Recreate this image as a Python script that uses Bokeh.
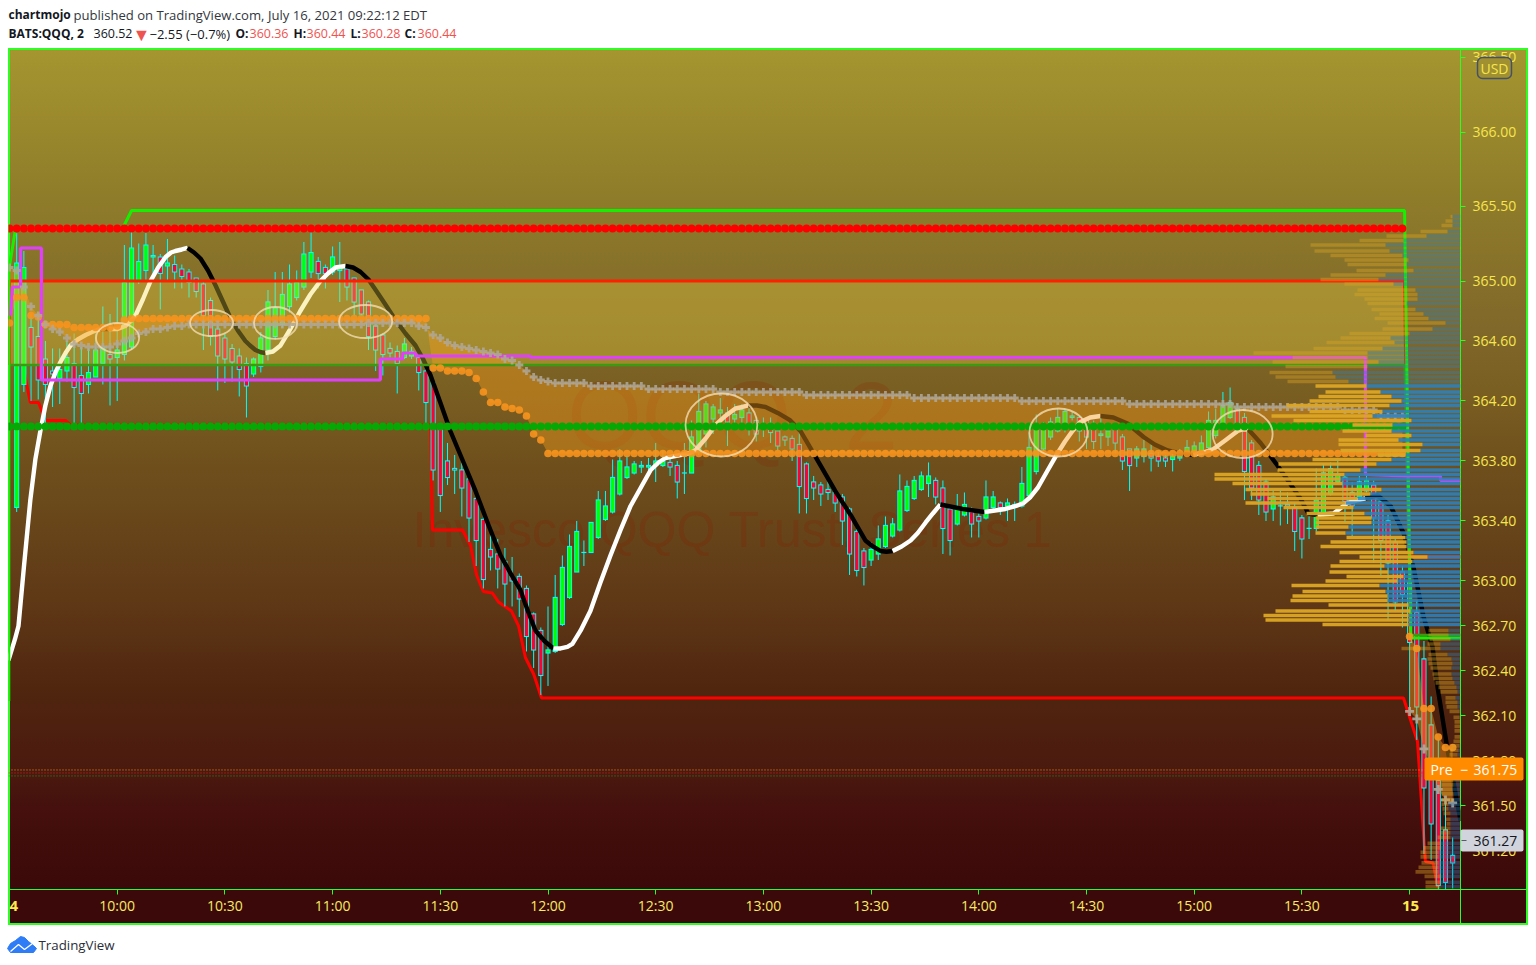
from bokeh.plotting import figure
from bokeh.embed import file_html
from bokeh.resources import INLINE
from bokeh.layouts import column
from bokeh.models import Range1d, LinearAxis, FixedTicker
from bokeh.core.properties import value

# ---------- candles (2 minute bars, first one 09:32) ----------
opens = [363.50,364.32,364.70,364.64,364.49,364.41,364.36,364.41,364.46,364.38,364.32,364.37,364.46,364.52,364.50,364.52,364.57,365.01,365.08,365.17,
365.17,365.11,365.12,365.09,365.07,365.03,364.99,364.88,364.69,364.63,364.56,364.51,364.46,364.39,364.44,364.55,364.64,364.72,364.84,364.90,
364.97,365.07,365.14,365.10,365.07,365.08,365.09,365.03,364.95,364.87,364.71,364.65,364.56,364.54,364.50,364.51,364.50,364.41,364.33,364.03,
363.81,363.76,363.75,363.69,363.56,363.42,363.22,363.19,363.14,363.04,363.04,362.96,362.79,362.68,362.53,362.54,362.72,362.90,363.07,363.20,
363.20,363.30,363.42,363.47,363.59,363.70,363.73,363.77,363.77,363.78,363.78,363.80,363.78,363.73,363.73,363.87,363.99,364.09,364.13,364.13,
364.09,364.10,364.13,364.08,364.05,364.06,364.01,363.97,363.96,363.92,363.79,363.67,363.65,363.62,363.60,363.57,363.49,363.34,363.21,363.15,
363.19,363.24,363.31,363.35,363.48,363.56,363.62,363.66,363.68,363.63,363.49,363.39,363.45,363.47,363.44,363.43,363.50,363.53,363.51,363.52,
363.51,363.58,363.74,363.89,363.97,364.01,364.04,364.10,364.10,364.08,364.06,363.98,363.97,364.02,363.97,363.89,363.83,363.84,363.86,363.84,
363.83,363.82,363.83,363.85,363.85,363.85,363.90,363.98,364.06,364.10,364.16,364.10,363.93,363.78,363.67,363.49,363.51,363.52,363.50,363.43,
363.36,363.36,363.45,363.59,363.67,363.70,363.60,363.57,363.61,363.65,363.54,363.41,363.27,363.07,363.00,362.80,362.49,362.05,361.68,361.35,361.18]
highs = [365.33,365.21,364.79,364.79,364.61,364.56,364.56,364.61,364.66,364.57,364.56,364.66,364.84,364.79,364.90,365.25,365.34,365.26,365.33,365.25,
365.19,365.29,365.18,365.12,365.09,365.03,365.01,364.90,364.72,364.66,364.59,364.56,364.50,364.50,364.67,364.95,365.07,365.07,365.12,365.08,
365.27,365.34,365.17,365.12,365.24,365.27,365.12,365.03,364.95,364.88,364.72,364.66,364.60,364.58,364.63,364.57,364.53,364.43,364.35,364.06,
363.93,363.85,363.80,363.71,363.58,363.46,363.34,363.29,363.23,363.17,363.06,362.98,362.80,362.70,362.84,363.05,363.18,363.32,363.41,363.28,
363.40,363.61,363.61,363.82,363.89,363.84,363.81,363.81,363.83,363.93,363.88,363.83,363.81,363.93,364.08,364.26,364.21,364.19,364.23,364.17,
364.19,364.19,364.16,364.10,364.10,364.10,364.04,363.98,363.98,364.04,363.80,363.71,363.67,363.71,363.63,363.59,363.50,363.36,363.23,363.27,
363.38,363.44,363.43,363.72,363.68,363.71,363.74,363.80,363.70,363.68,363.51,363.59,363.60,363.50,363.46,363.68,363.61,363.54,363.56,363.54,
363.77,364.00,364.12,364.07,364.10,364.16,364.16,364.14,364.11,364.10,364.08,364.10,364.06,364.05,363.99,363.89,363.91,363.95,363.92,363.87,
363.85,363.88,363.89,363.95,363.94,363.98,364.14,364.16,364.27,364.30,364.19,364.13,363.95,363.81,363.69,363.61,363.61,363.60,363.53,363.45,
363.44,363.76,363.79,363.80,363.81,363.71,363.67,363.71,363.74,363.68,363.56,363.45,363.29,363.11,363.10,362.88,362.61,362.24,361.95,361.55,361.30]
lows = [363.47,364.27,364.21,364.22,364.06,364.17,364.19,364.34,364.06,364.06,364.26,364.37,364.32,364.18,364.21,364.48,364.55,364.99,365.01,365.02,
364.82,365.01,364.96,364.96,364.90,364.90,364.55,364.58,364.28,364.33,364.34,364.24,364.10,364.37,364.40,364.48,364.62,364.70,364.80,364.88,
364.95,365.03,364.96,364.96,365.05,364.87,364.88,364.78,364.78,364.55,364.41,364.38,364.50,364.26,364.49,364.49,364.28,364.04,363.68,363.47,
363.65,363.59,363.44,363.27,363.11,362.96,363.08,362.96,362.84,362.84,362.77,362.54,362.43,362.25,362.31,362.53,362.71,362.89,363.07,363.11,
363.20,363.29,363.41,363.46,363.58,363.69,363.72,363.73,363.71,363.67,363.77,363.71,363.56,363.59,363.73,363.85,363.90,363.99,364.06,363.91,
364.03,364.06,363.98,363.94,363.97,363.93,363.88,363.91,363.81,363.46,363.46,363.55,363.51,363.55,363.47,363.25,363.05,363.04,362.98,363.11,
363.15,363.23,363.30,363.34,363.47,363.55,363.61,363.57,363.52,363.19,363.18,363.38,363.44,363.30,363.30,363.42,363.49,363.45,363.41,363.41,
363.50,363.57,363.72,363.87,363.95,364.00,364.00,364.08,363.94,363.89,363.89,363.89,363.91,363.86,363.75,363.61,363.77,363.80,363.74,363.77,
363.77,363.74,363.81,363.84,363.84,363.84,363.89,363.96,364.05,364.09,363.99,363.55,363.55,363.45,363.41,363.41,363.38,363.39,363.21,363.16,
363.29,363.34,363.44,363.58,363.66,363.40,363.31,363.56,363.60,363.13,363.05,362.75,362.81,362.70,362.15,361.95,361.19,361.15,360.95,360.95,360.96]
closes = [365.13,365.10,364.57,364.35,364.32,364.39,364.42,364.50,364.30,364.26,364.40,364.55,364.57,364.49,364.55,365.00,365.23,365.14,365.25,365.18,
365.06,365.13,365.07,365.04,365.00,364.94,364.78,364.64,364.51,364.49,364.47,364.42,364.31,364.49,364.63,364.87,364.83,364.92,364.99,365.00,
365.19,365.20,365.06,365.06,365.17,365.11,364.97,364.87,364.79,364.64,364.55,364.52,364.53,364.46,364.59,364.54,364.40,364.20,363.75,363.58,
363.70,363.75,363.63,363.43,363.28,363.02,363.17,363.09,362.99,363.01,362.89,362.64,362.55,362.38,362.55,362.90,363.10,363.24,363.34,363.20,
363.40,363.55,363.51,363.70,363.81,363.77,363.79,363.78,363.78,363.81,363.81,363.77,363.67,363.73,363.97,364.14,364.19,364.17,364.15,364.07,
364.12,364.15,364.06,363.99,364.04,364.00,363.91,363.95,363.89,363.64,363.56,363.63,363.59,363.60,363.53,363.41,363.19,363.08,363.10,363.22,
363.29,363.38,363.39,363.61,363.64,363.68,363.71,363.71,363.57,363.36,363.28,363.49,363.52,363.39,363.41,363.57,363.57,363.50,363.53,363.51,
363.66,363.90,364.02,364.04,364.07,364.10,364.14,364.11,364.01,363.97,363.94,363.99,364.01,363.93,363.81,363.78,363.89,363.89,363.83,363.81,
363.81,363.84,363.84,363.90,363.91,363.93,364.08,364.08,364.18,364.20,364.01,363.74,363.63,363.55,363.47,363.57,363.51,363.51,363.34,363.29,
363.36,363.55,363.73,363.76,363.72,363.54,363.51,363.67,363.68,363.43,363.28,363.13,362.87,362.92,362.60,362.17,361.63,361.39,360.98,361.00,361.13]

# ---------- indicator levels, one value per bar from 09:30 to 15:58 ----------
orange_band = [364.73,364.90,364.90,364.78,364.77,364.72,364.72,364.72,364.72,364.70,364.70,364.70,364.70,364.70,364.70,364.71,364.75,364.76]\
 + [364.76]*41 + [364.43,364.43,364.41,364.41,364.41,364.40,364.36,364.27,364.20,364.20,364.17,364.16,364.15,364.11,363.99,363.95] + [363.86]*120
vwap_cross = [365.10,365.08,364.97,364.84,364.78,364.72,364.69,364.67,364.63,364.59,364.58,364.57,364.57,364.57,364.57,364.59,364.61,364.63,364.66,364.67,
364.69,364.69,364.70,364.71,364.71] + [364.72]*25 + [364.73]*7 + [364.71,364.70,364.65,364.63,364.60,364.58,364.57,364.56,364.55,364.54,364.53,364.52,364.49,364.48,364.45,364.41,364.37,364.35,364.34,364.33]\
 + [364.33]*4 + [364.31]*8 + [364.29]*10 + [364.27]*12 + [364.25]*15 + [364.23]*15 + [364.21]*15 + [364.19]*15 + [364.17]*15 + [364.15]*5 + [364.11]*4
orange_next = [362.64,362.56,362.16,362.16,361.97,361.90,361.90]
vwap_next = [362.14,362.09,361.89,361.78,361.62,361.55,361.53]
RESIST_DOTS = 365.36
SUPPORT_DOTS = 364.04

# ---------- stepped and smoothed lines: minutes after 09:30, price ----------
upper_t = [-0.2,-0.2,1.7,31.5,34,388.6,390.3,404.2]
upper_p = [362.21,365.08,365.36,365.36,365.48,365.48,362.63,362.63]
vah_t = [-0.1,-0.1,388.6,389.7,391.1,404.2]
vah_p = [364.45,365.01,365.01,363.19,363.17,363.17]
val_t = [-0.1,388.6,390.3,404.2]
val_p = [364.45,364.45,362.65,362.65]
lower_t = [3.9,5.8,8.1,10,15.6,17,117.3,117.8,126.2,128.4,130.1,132,134.5,136.2,139.8,141.8,143.7,146,148.2,388.3,392.2,394.4,396.6,397.8]
lower_p = [364.43,364.2,364.2,364.08,364.08,364.05,364.05,363.35,363.35,363.25,363.05,362.94,362.93,362.87,362.81,362.71,362.5,362.39,362.23,362.23,361.94,361.14,361.13,360.97]
poc_t = [0.3,0.8,3.1,3.1,8.9,8.9,103.3,103.3,109.5,109.5,113.1,113.1,145.1,145.1,377.7,377.7,388.6,398.6,398.6,404.2]
poc_p = [364.78,364.97,364.97,365.23,365.23,364.35,364.35,364.49,364.49,364.53,364.53,364.51,364.51,364.50,364.50,363.72,363.71,363.71,363.68,363.68]

hma_t = [[-0.3,1.5,2.5,4,5.8,7.2,8.6,10,11.4,12.8,14.2,15.6,17,19,21.2,23,25.3],[25.3,27.6],
 [27.6,30.1,32.3,33.7,35.1,37.2,39.3,41.4,43.5,45,46.2,48,49.6],
 [49.6,51.4,53.2,55.3,57.4,59.5,61.6,63.6,65.7,67,68.5,70,71.3],
 [71.3,73.4,75.5,78,81,83.8,86.6,88.7,90.8,92.2,93.6],
 [93.6,95.7,97.8,100,102,104.8,107.5,110.3,113.1,115.2,117.3,120,122.8,126.3,129.8,133.3,136.8,139.6,142.3,144.4,146.5,149,151.5],
 [151.5,153.5,155.4,156.8,159.1,161.8,164.6,167.4,170.2,173,175.8,178.6,180.8,182.7,184.7,186.9,189.1,191,193.9,196.7,199.4,202.2,204.2,205.8],
 [205.8,208.2,210.6,214,217.5,220.3,223,225.9,230,234.3,238.4,240.5,242.6,244.3,246],
 [246,248.5,251,253,255.2,257.2,259.3],[259.3,265.5,271.6],
 [271.6,277.4,280.4,282.5,284.4,286.4,289,291.9,294,296.1,298.3,301,303.9],
 [303.9,307.5,311.4,315.9,319,322.6,326,329.8],[329.8,333,335.4,338.8,342.1,343.5,345.1],
 [345.1,348.5,353.2,359.6,361.8,364.4],[364.4,368.8,372.7,377.7],[377.7,381.1,384.7,388.3,391.1,393.9,396.4,397.8,400.6,404.2]]
hma_p = [[362.48,362.62,362.71,363.1,363.55,363.82,364.01,364.18,364.31,364.4,364.47,364.53,364.58,364.62,364.65,364.67,364.69],[364.69,364.69],
 [364.69,364.69,364.71,364.74,364.78,364.89,365.01,365.10,365.17,365.20,365.21,365.22,365.23],
 [365.23,365.20,365.16,365.08,364.98,364.87,364.76,364.68,364.61,364.58,364.55,364.535,364.53],
 [364.53,364.54,364.58,364.68,364.81,364.92,365.01,365.06,365.10,365.105,365.11],
 [365.11,365.10,365.07,365.02,364.95,364.85,364.75,364.66,364.58,364.49,364.38,364.2,364.01,363.81,363.61,363.39,363.18,363.06,362.95,362.81,362.68,362.61,362.56],
 [362.56,362.56,362.57,362.59,362.68,362.81,363.0,363.18,363.35,363.51,363.63,363.75,363.80,363.83,363.84,363.85,363.86,363.88,363.96,364.05,364.11,364.16,364.17,364.18],
 [364.18,364.18,364.17,364.13,364.08,364.01,363.90,363.78,363.61,363.45,363.28,363.24,363.21,363.205,363.21],
 [363.21,363.24,363.28,363.33,363.40,363.46,363.52],[363.52,363.49,363.47],
 [363.47,363.49,363.51,363.53,363.57,363.63,363.74,363.86,363.94,364.01,364.07,364.10,364.11],
 [364.11,364.10,364.06,363.97,363.92,363.88,363.86,363.85],[363.85,363.87,363.89,363.95,364.01,364.02,364.02],
 [364.02,363.93,363.78,363.56,363.46,363.45],[363.45,363.46,363.53,363.56],[363.56,363.58,363.51,363.33,363.10,362.77,362.57,362.30,361.88,361.41]]

ring_t = [30.1,56.3,74.1,99.2,198.3,292.2,343.5]
ring_p = [364.63,364.73,364.73,364.74,364.05,364.00,363.99]
ring_w = [12,12,12,14.8,20,16.2,16.7]
ring_h = [0.20,0.173,0.213,0.22,0.42,0.32,0.32]

# ---------- volume profile ----------
profile_price = [365.44,365.41,365.38,365.34,365.31,365.28,365.25,365.21,365.18,365.15,365.12,365.08,365.05,365.02,364.99,364.95,364.92,364.89,364.86,364.82,
364.79,364.76,364.73,364.69,364.66,364.63,364.60,364.56,364.53,364.50,364.47,364.44,364.40,364.37,364.34,364.31,364.27,364.24,364.21,364.18,
364.14,364.11,364.08,364.05,364.01,363.98,363.95,363.92,363.88,363.85,363.82,363.79,363.75,363.72,363.69,363.66,363.62,363.59,363.56,363.53,
363.50,363.46,363.43,363.40,363.37,363.33,363.30,363.27,363.24,363.20,363.17,363.14,363.11,363.07,363.04,363.01,362.98,362.94,362.91,362.88,
362.85,362.81,362.78,362.75,362.72,362.68,362.65,362.62,362.59,362.56,362.52,362.49,362.46,362.43,362.39,362.36,362.33,362.30,362.27,362.23,
362.20,362.17,362.14,362.10,362.07,362.04,362.01,361.97,361.94,361.91,361.88,361.85,361.81,361.78,361.75,361.72,361.68,361.65,361.62,361.59,
361.55,361.52,361.49,361.46,361.42,361.39,361.36,361.33,361.30,361.26,361.23,361.20,361.17,361.13,361.10,361.07,361.04,361.00,360.97]
vol_up = [2,7,11,27,40,44,75,75,72,64,59,57,55,58,49,58,63,53,39,44,44,54,58,50,60,50,68,69,114,75,106,82,63,60,61,
51,55,73,92,103,73,101,118,40,49,46,60,84,80,28,79,98,83,130,126,110,136,120,90,100,70,58,56,56,33,30,59,76,86,74,68,73,54,59,57,72,88,83,95,97,80,135,145,143,86,
20,20,21,13,39,19,24,24,21,19,19,19,18,17,10,12,11,10,6,6,6,6,6,7,8,8,8,8,10,10,12,12,12,10,12,12,7,6,7,5,4,10,10,13,13,17,18,18,17,20,23,16,15,15]
vol_down = [8,8,8,13,34,57,75,71,58,52,54,47,75,82,67,45,43,43,54,45,37,32,15,28,51,70,66,78,93,93,82,93,128,125,112,
94,80,69,59,71,78,88,49,68,69,49,62,38,40,55,69,84,100,116,120,118,79,90,103,115,107,96,89,89,112,115,55,54,54,47,33,48,76,72,57,63,81,75,73,73,52,50,52,52,52,
12,12,10,20,20,13,9,8,9,9,8,6,4,3,5,3,3,1,1,0,0,0,0,0,1,2,3,5,5,7,7,7,7,8,7,7,12,12,10,10,10,10,10,10,20,20,22,22,22,22,22,20,20,20]
VA_FIRST_ROW = 35
VA_LAST_ROW = 84

price_ticks = [366.5,366,365.507,365.007,364.613,364.213,363.813,363.413,363.013,362.713,362.413,362.113,361.813,361.513,361.213]
price_labels = ["366.50","366.00","365.50","365.00","364.60","364.20","363.80","363.40","363.00","362.70","362.40","362.10","361.80","361.50","361.20"]
time_ticks = [0,30,60,90,120,150,180,210,240,270,300,330,360,390]
time_labels = ["","10:00","10:30","11:00","11:30","12:00","12:30","13:00","13:30","14:00","14:30","15:00","15:30",""]

# ---------- page ----------
W, H = 1536, 960
GREEN = "#2dff22"
def stripe(x, y, w, h):
    return f"linear-gradient({GREEN},{GREEN}) {x}px {y}px/{w}px {h}px no-repeat"
grad = ("linear-gradient(to bottom,#a59630 0px,#a08f2e 40px,#8f7c2a 150px,#80682a 280px,#7a5f22 340px,"
        "#6e4f1c 420px,#5e3716 560px,#50260f 640px,#4b1a0f 720px,#45100d 760px,#3b0909 841px,#3b0909 876px) 8px 48px/1520px 876px no-repeat")
css = ",".join([stripe(8,48,1520,2),stripe(8,923,1520,2),stripe(8,48,2,877),stripe(1526,48,2,877),
                stripe(8,889,1520,1),stripe(1460,48,1,877),grad,"#ffffff"])

p = figure(width=W, height=H, output_backend="svg", toolbar_location=None,
           x_range=Range1d(-0.28,404.18), y_range=Range1d(360.953,366.56),
           x_axis_type=None, y_axis_type=None, min_border_left=8, min_border_right=76,
           min_border_top=48, min_border_bottom=71)
p.styles = {"background": css}
p.border_fill_color = None
p.background_fill_color = None
p.outline_line_color = None
p.grid.visible = False
p.frame_align = False
p.extra_x_ranges = {"vol": Range1d(1452,0)}

AX = "Open Sans"
right = LinearAxis(ticker=FixedTicker(ticks=price_ticks))
right.major_label_overrides = dict(zip(price_ticks, price_labels))
right.major_label_text_color = "#f6e64e"
right.major_label_text_font = AX
right.major_label_text_font_size = "14px"
right.major_tick_line_color = GREEN
right.major_tick_line_width = 1
right.major_tick_out = 5
right.major_tick_in = 0
right.major_label_standoff = 7
right.minor_tick_line_color = None
right.axis_line_color = None
p.add_layout(right, "right")
bottom = LinearAxis(ticker=FixedTicker(ticks=time_ticks))
bottom.major_label_overrides = dict(zip(time_ticks, time_labels))
bottom.major_label_text_color = "#f8ea62"
bottom.major_label_text_font = AX
bottom.major_label_text_font_size = "14px"
bottom.major_tick_line_color = GREEN
bottom.major_tick_out = 5
bottom.major_tick_in = 0
bottom.major_label_standoff = 1
bottom.minor_tick_line_color = None
bottom.axis_line_color = None
p.add_layout(bottom, "below")

# watermark
p.text(x=[201.4], y=[364.11], text=["QQQ, 2"], text_font=value("Liberation Sans"), text_font_size="96px",
       text_align="center", text_baseline="middle", text_color="#8a1c00", text_alpha=0.2)
p.text(x=[201.4], y=[363.35], text=["Invesco QQQ Trust, Series 1"], text_font=value("Liberation Sans"), text_font_size="50px",
       text_align="center", text_baseline="middle", text_color="#8a1c00", text_alpha=0.22)

# lower stepped line
p.line(lower_t, lower_p, line_color="#ff0000", line_width=3)

# candles: cyan wick and outer body, solid inner body
bars = [2*(i+1) for i in range(len(opens))]
up = [c >= o for o, c in zip(opens, closes)]
p.segment(bars, lows, bars, highs, line_color="#00ffff", line_width=1)
p.vbar(bars, width=1.42, bottom=[min(o,c)-0.004 for o,c in zip(opens,closes)], top=[max(o,c)+0.004 for o,c in zip(opens,closes)],
       fill_color="#00ffff", line_color=None)
p.vbar(bars, width=0.92, bottom=[min(o,c)+0.003 for o,c in zip(opens,closes)], top=[max(max(o,c)-0.003,min(o,c)+0.003) for o,c in zip(opens,closes)],
       fill_color=["#00ff00" if u else "#ff0033" for u in up], line_color=None)

# smoothed line, colour flips at each turn
for i, (t, v) in enumerate(zip(hma_t, hma_p)):
    p.line(t, v, line_color="#ffffff" if i % 2 == 0 else "#000000", line_width=4.4, line_join="round")

# value area band and VWAP band
p.hbar(y=[364.73], left=[-0.28], right=[388.6], height=[0.56], fill_color="#f0d840", fill_alpha=0.33, line_color=None)
days = [2*i for i in range(195)]
next_days = [390+2*i for i in range(7)]
p.varea(days, orange_band, vwap_cross, fill_color="#f59a1a", fill_alpha=0.42)
p.varea(next_days, orange_next, vwap_next, fill_color="#f59a1a", fill_alpha=0.42)

# stepped lines
p.line(vah_t, vah_p, line_color="#ff2000", line_width=3.2)
p.line(val_t, val_p, line_color="#3c9a12", line_width=2.4)
p.line(upper_t, upper_p, line_color="#14f000", line_width=3)
p.line(poc_t, poc_p, line_color="#e040fb", line_width=3.2)

# dotted levels
p.scatter(days, [RESIST_DOTS]*195, size=7.8, marker="circle", fill_color="#ff0000", line_color=None)
p.scatter(days, [SUPPORT_DOTS]*195, size=7.8, marker="circle", fill_color="#05a805", line_color=None)
p.scatter(days, orange_band, size=7.6, marker="circle", fill_color="#f7931e", line_color=None, fill_alpha=0.9)
p.scatter(next_days, orange_next, size=7.6, marker="circle", fill_color="#f7931e", line_color=None, fill_alpha=0.9)
p.scatter(days, vwap_cross, size=8, marker="cross", line_color="#b0a89a", line_width=2.8, line_alpha=0.85)
p.scatter(next_days, vwap_next, size=9, marker="cross", line_color="#b0a89a", line_width=2.8, line_alpha=0.9)

p.ellipse(ring_t, ring_p, width=ring_w, height=ring_h, fill_color=None, line_color="#f5dfb5", line_width=1.8, line_alpha=0.78)

# pre-market levels
for lvl, col in [(361.75,"#f7931e"),(361.73,"#e02020"),(361.71,"#1fa01f")]:
    p.line([-0.28,394.2],[lvl,lvl], line_color=col, line_width=1, line_dash="1 2")

# volume profile
n = len(profile_price)
tot = [u+d for u, d in zip(vol_up, vol_down)]
inside = [VA_FIRST_ROW <= i <= VA_LAST_ROW for i in range(n)]
zero = [0]*n
p.hbar(y=profile_price, left=vol_down, right=zero, height=0.0245, x_range_name="vol", line_color=None,
       fill_color="#2a82c0", fill_alpha=[0.88 if a else 0.38 for a in inside])
p.hbar(y=profile_price, left=tot, right=vol_down, height=0.0245, x_range_name="vol", line_color=None,
       fill_color="#dca524", fill_alpha=[0.96 if a else 0.42 for a in inside])

# ---------- transparent sheet over the whole page for header, footer and price tags ----------
sheet = figure(width=W, height=H, output_backend="svg", toolbar_location=None,
               x_range=Range1d(0,W), y_range=Range1d(H,0), x_axis_type=None, y_axis_type=None,
               min_border=0, outline_line_color=None)
sheet.grid.visible = False
sheet.border_fill_color = None
sheet.background_fill_color = None
sheet.frame_align = False
sheet.styles = {"position": "absolute", "top": "0px", "left": "0px", "pointer-events": "none"}

def tag(txt, x, y, size="12.5px", color="#131722", style="normal", font="Open Sans", align="left"):
    sheet.text([x], [y], text=[txt], text_font=value(font), text_font_size=size, text_color=color,
               text_font_style=style, text_baseline="middle", text_align=align)
def box(l, r, t, b, fill, line=None, radius=2):
    sheet.quad(left=[l], right=[r], top=[t], bottom=[b], fill_color=fill, line_color=line, line_width=1.5, border_radius=radius)

tag("chartmojo", 8, 14, style="bold", size="12px")
tag("published on TradingView.com, July 16, 2021 09:22:12 EDT", 73, 14, color="#333740", size="13.1px")
tag("BATS:QQQ, 2", 8, 33, style="bold", size="12px")
tag("360.52", 93, 33)
tag("▼", 132, 33, color="#ef5350", size="18px")
tag("−2.55 (−0.7%)", 149, 33, size="13px")
tag("O:", 235, 33, style="bold", size="12px")
tag("360.36", 249, 33, color="#ef5350")
tag("H:", 293, 33, style="bold", size="12px")
tag("360.44", 306, 33, color="#ef5350")
tag("L:", 350, 33, style="bold", size="12px")
tag("360.28", 361, 33, color="#ef5350")
tag("C:", 404, 33, style="bold", size="12px")
tag("360.44", 417, 33, color="#ef5350")
tag("TradingView", 38, 944, color="#2a2e39", size="13.3px")
tag("4", 9, 905, size="15px", color="#ffe94e", style="bold")
tag("15", 1410, 905, size="15px", color="#ffe94e", style="bold", align="center")

box(1477, 1511, 57, 78, "#a09030", line="#45506a", radius=5)
tag("USD", 1494, 67.5, size="14px", color="#f6e64e", align="center")
box(1424, 1523, 757, 780, "#ff8c00")
tag("Pre", 1430, 769, size="14px", color="#ffffff")
tag("−", 1460, 769, size="14px", color="#ffffff")
tag("361.75", 1473, 769, size="14px", color="#ffffff")
box(1460, 1523, 829, 851, "#d1d4dc")
sheet.segment([1461],[840],[1466],[840], line_color="#555a66", line_width=1)
tag("361.27", 1473, 840, size="14px", color="#131722")

# logo
sheet.patch([7,10,15,20,24,28,33,36,33,10],[948,943,940,936,937,941,945,948,952,952], fill_color="#2e7cf6", line_color="#2e7cf6")
sheet.line([10,18,24,32],[951,944,949,943], line_color="#ffffff", line_width=1.3)

open("out.html", "w").write(file_html(column(p, sheet), INLINE))
